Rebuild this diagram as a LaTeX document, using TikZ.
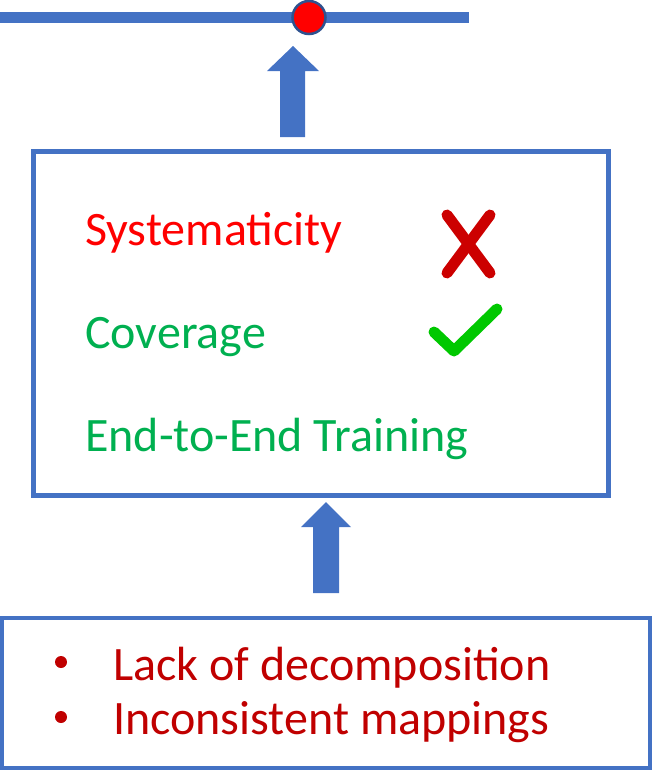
\documentclass[tikz,border=0pt]{standalone}
\usepackage{fontspec}
\setmainfont{Carlito}
\definecolor{pblue}{HTML}{4472C4}
\definecolor{pdark}{HTML}{2F528F}
\definecolor{pred}{HTML}{FF0000}
\definecolor{pgreen}{HTML}{00B050}
\definecolor{pdred}{HTML}{C00000}
\definecolor{xred}{HTML}{CC0000}
\definecolor{ckgreen}{HTML}{00C800}
\begin{document}
\begin{tikzpicture}[x=1pt,y=-1pt,
  frame/.style={draw=pblue,line width=4.5pt},
  blockarrow/.style={fill=pblue},
  lbl/.style={anchor=base west,inner sep=0pt,font=\fontsize{48}{56}\selectfont},
  bulletdot/.style={circle,fill=pdred,minimum size=12pt,inner sep=0pt},
  tickmark/.style={line width=11pt,line cap=round}]
\useasboundingbox (0,0) rectangle (654,774);
% top line and dot
\coordinate (la) at (0,17.5);
\coordinate (lb) at (469,17.5);
\draw[pblue,line width=11pt] (la) -- (lb);
\node[circle,fill=red,draw=pdark,line width=2.5pt,minimum size=33pt,inner sep=0pt] (dot) at (309,17.5) {};
% boxes
\node[frame,minimum width=575pt,minimum height=344pt,inner sep=0pt] (mid) at (320.75,323.25) {};
\node[frame,minimum width=648pt,minimum height=150pt,inner sep=0pt] (bot) at (326,693) {};
% arrow 1
\fill[blockarrow] (280,137) -- (280,71) -- (267,71) -- (293,46) -- (319,71) -- (305,71) -- (305,137) -- cycle;
% arrow 2
\fill[blockarrow] (313,593) -- (313,527) -- (301,527) -- (326,502) -- (351,527) -- (339,527) -- (339,593) -- cycle;
% labels
\node[lbl,text=pred] (sys) at (85,245) {Systematicity};
\node[lbl,text=pgreen] (cov) at (85,348) {Coverage};
\node[lbl,text=pgreen] (e2e) at (85,451) {End-to-End Training};
% X mark
\draw[tickmark,xred] (447,215) -- (490,273);
\draw[tickmark,xred] (490,215) -- (447,273);
% check mark
\draw[tickmark,ckgreen,line join=round] (434,332) -- (454,351) -- (497,309);
% bullets
\node[bulletdot] (b1) at (61,662) {};
\node[lbl,text=pdred] (t1) at (113,680) {Lack of decomposition};
\node[bulletdot] (b2) at (61,717) {};
\node[lbl,text=pdred] (t2) at (113,734) {Inconsistent mappings};
\end{tikzpicture}
\end{document}
